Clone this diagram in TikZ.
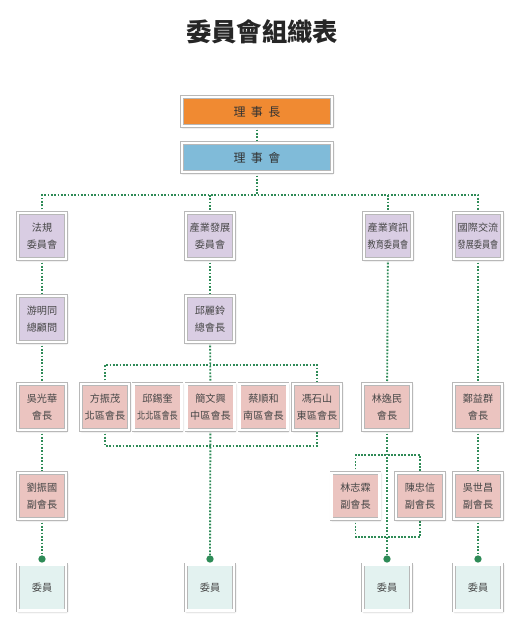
\documentclass[tikz,border=0pt]{standalone}
\usepackage{fontspec}
\usepackage{graphicx}
\newfontfamily\cjk{Noto Sans CJK TC}
\usetikzlibrary{shadows.blur,backgrounds}
\definecolor{chaircol}{HTML}{F08A32}
\definecolor{boardcol}{HTML}{80BBD9}
\definecolor{comcol}{HTML}{D9CDE3}
\definecolor{headcol}{HTML}{EBC4C0}
\definecolor{membcol}{HTML}{E3F2F0}
\definecolor{lnk}{HTML}{2E8B57}
\newcommand\squeeze[1]{\scalebox{0.8}[1]{#1}}

\begin{document}
\begin{tikzpicture}[x=0.75pt, y=-0.75pt,
  box/.style={draw=black!28, double=white, double distance=2pt, line width=0.4pt,
    minimum width=36pt, minimum height=34.5pt, inner sep=0pt, align=center,
    text=black!72, font=\cjk\fontsize{7.6}{12.75}\selectfont,
    blur shadow={shadow blur steps=6, shadow xshift=0.5pt, shadow yshift=-0.7pt, shadow opacity=40}},
  wide/.style={box, minimum width=112.5pt, minimum height=21.75pt, text=black!80,
    font=\cjk\fontsize{9}{11}\selectfont},
  com/.style={box, fill=comcol},
  head/.style={box, fill=headcol},
  memb/.style={box, fill=membcol},
  link/.style={draw=lnk, line width=1.4pt, dash pattern=on 1.3pt off 1.2pt},
  dot/.style={circle, fill=lnk, inner sep=0pt, minimum size=5.5pt}]
\useasboundingbox (0,0) rectangle (515,640);
\node[font=\cjk\bfseries\fontsize{19}{22}\selectfont, text=black!85] (title) at (262,32) {委員會組織表};
% top
\node[wide, fill=chaircol] (chair) at (257,111.5) {理\hspace{4pt}事\hspace{4pt}長};
\node[wide, fill=boardcol] (board) at (257,157.5) {理\hspace{4pt}事\hspace{4pt}會};
\coordinate (bus) at (257,195);
% committees
\node[com] (law)   at (42,236)  {法規\\委員會};
\node[com] (indus) at (210,236) {產業發展\\委員會};
\node[com] (info)  at (388,236) {產業資訊\\\squeeze{教育委員會}};
\node[com] (intl)  at (478,236) {國際交流\\\squeeze{發展委員會}};
\node[com] (adv)   at (42,319)  {游明同\\總顧問};
\node[com] (pres)  at (210,319) {邱麗鈴\\總會長};
% chairs
\node[head] (wu)  at (42,407)    {吳光華\\會長};
\node[head] (r1)  at (105,407)   {方振茂\\北區會長};
\node[head] (r2)  at (157.5,407) {邱錫奎\\\squeeze{北北區會長}};
\node[head] (r3)  at (210.5,407) {簡文興\\中區會長};
\node[head] (r4)  at (263.5,407) {蔡順和\\南區會長};
\node[head] (r5)  at (317,407)   {馮石山\\東區會長};
\node[head] (lin) at (387,407)   {林逸民\\會長};
\node[head] (zh)  at (478,407)   {鄭益群\\會長};
\node[head] (liu) at (42,496)    {劉振國\\副會長};
\node[head] (v1)  at (355.5,496) {林志霖\\副會長};
\node[head] (v2)  at (420,496)   {陳忠信\\副會長};
\node[head] (wus) at (478,496)   {吳世昌\\副會長};
% members
\node[dot] (d1) at (42,559) {};  \node[dot] (d2) at (210,559) {};
\node[dot] (d3) at (387,559) {}; \node[dot] (d4) at (478,559) {};
\node[memb] (m1) at (42,587.5)  {委員};
\node[memb] (m2) at (210,587.5) {委員};
\node[memb] (m3) at (387,587.5) {委員};
\node[memb] (m4) at (478,587.5) {委員};
\coordinate (ctop) at (210,365); \coordinate (cbot) at (210,446);
\coordinate (btop) at (387,455); \coordinate (bbot) at (387,537);
\begin{scope}[on background layer]
\draw[link] (chair) -- (board); \draw[link] (board) -- (bus);
\draw[link] (law.north) -- (law.north |- bus) -- (intl.north |- bus) -- (intl.north);
\draw[link] (indus.north |- bus) -- (indus.north); \draw[link] (info.north |- bus) -- (info.north);
\draw[link] (law) -- (adv); \draw[link] (adv) -- (wu); \draw[link] (wu) -- (liu); \draw[link] (liu) -- (d1);
\draw[link] (indus) -- (pres); \draw[link] (pres) -- (r3); \draw[link] (r3) -- (d2);
\draw[link] (r1.north) |- (ctop) -| (r5.north);
\draw[link] (r1.south) |- (cbot) -| (r5.south);
\draw[link] (info) -- (lin); \draw[link] (lin) -- (d3);
\draw[link] (v1.north) |- (btop) -| (v2.north);
\draw[link] (v1.south) |- (bbot) -| (v2.south);
\draw[link] (intl) -- (zh); \draw[link] (zh) -- (wus); \draw[link] (wus) -- (d4);
\end{scope}
\end{tikzpicture}
\end{document}
